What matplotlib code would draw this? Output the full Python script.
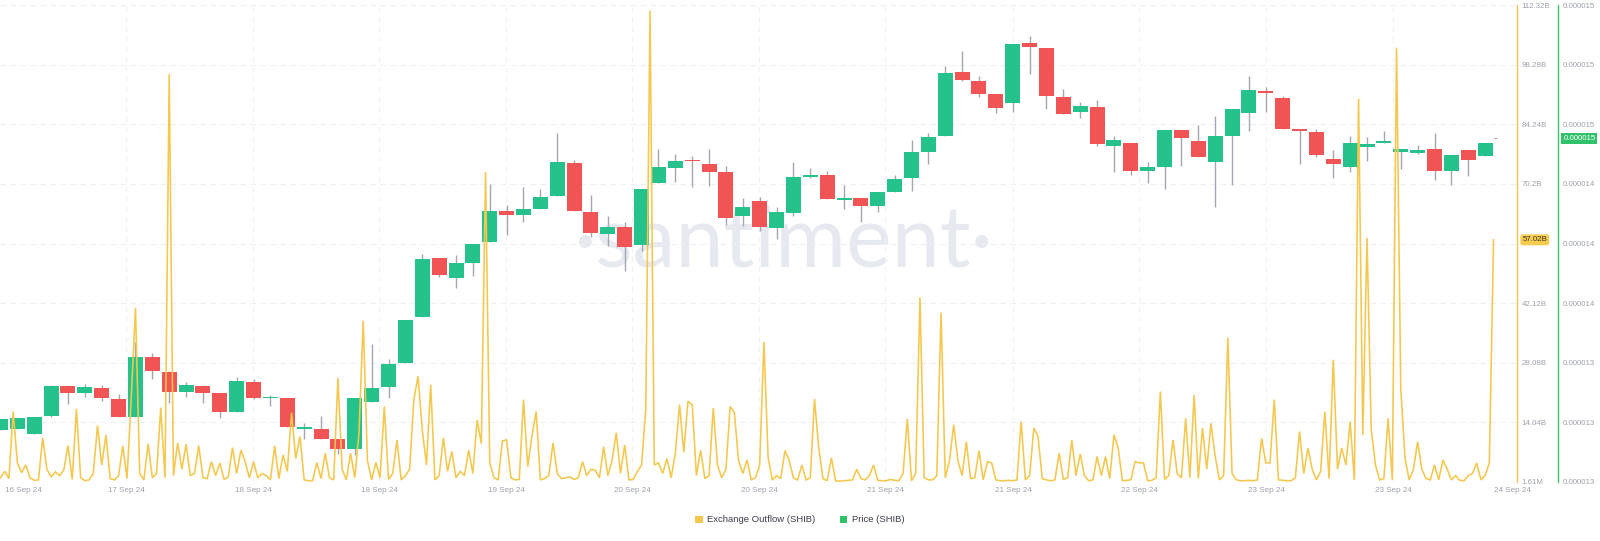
import numpy as np
import matplotlib
matplotlib.use("Agg")
import matplotlib.pyplot as plt
from matplotlib.patches import Patch
from matplotlib.transforms import blended_transform_factory

plt.rcParams['font.family'] = ['Liberation Sans', 'DejaVu Sans']

# ---------------- data ----------------
# 2-hour SHIB candles, prices in units of 1e-5 USD
price_open = [1.3062, 1.3067, 1.3042, 1.3133, 1.3284, 1.3249, 1.3274, 1.3219, 1.3128, 1.3430,
              1.3355, 1.3254, 1.3284, 1.3249, 1.3153, 1.3304, 1.3221, 1.3224, 1.3067, 1.3067,
              1.3017, 1.2966, 1.3203, 1.3279, 1.3400, 1.3632, 1.3929, 1.3824, 1.3904, 1.4010,
              1.4166, 1.4141, 1.4176, 1.4237, 1.4403, 1.4161, 1.4050, 1.4081, 1.3990, 1.4303,
              1.4378, 1.4416, 1.4398, 1.4358, 1.4136, 1.4212, 1.4076, 1.4151, 1.4333, 1.4343,
              1.4219, 1.4227, 1.4187, 1.4257, 1.4328, 1.4459, 1.4540, 1.4862, 1.4817, 1.4751,
              1.4706, 1.5008, 1.4983, 1.4736, 1.4661, 1.4686, 1.4489, 1.4504, 1.4363, 1.4383,
              1.4570, 1.4514, 1.4408, 1.4540, 1.4656, 1.4761, 1.4731, 1.4570, 1.4560, 1.4424,
              1.4383, 1.4484, 1.4507, 1.4459, 1.4454, 1.4474, 1.4363, 1.4469, 1.4439]
price_high = [1.3118, 1.3123, 1.3129, 1.3289, 1.3289, 1.3294, 1.3289, 1.3244, 1.3506, 1.3450,
              1.3360, 1.3304, 1.3289, 1.3249, 1.3329, 1.3319, 1.3239, 1.3224, 1.3097, 1.3133,
              1.3017, 1.3224, 1.3496, 1.3420, 1.3617, 1.3945, 1.3929, 1.3940, 1.3995, 1.4298,
              1.4192, 1.4282, 1.4272, 1.4555, 1.4418, 1.4242, 1.4136, 1.4106, 1.4272, 1.4474,
              1.4449, 1.4439, 1.4474, 1.4388, 1.4227, 1.4232, 1.4182, 1.4408, 1.4378, 1.4363,
              1.4292, 1.4227, 1.4257, 1.4343, 1.4519, 1.4555, 1.4892, 1.4968, 1.4842, 1.4751,
              1.5003, 1.5044, 1.4983, 1.4776, 1.4711, 1.4721, 1.4540, 1.4504, 1.4408, 1.4570,
              1.4570, 1.4595, 1.4640, 1.4676, 1.4842, 1.4787, 1.4741, 1.4570, 1.4575, 1.4469,
              1.4540, 1.4534, 1.4565, 1.4474, 1.4494, 1.4555, 1.4444, 1.4469, 1.4504]
price_low = [1.3062, 1.3067, 1.3042, 1.3128, 1.3193, 1.3229, 1.3208, 1.3128, 1.3128, 1.3319,
             1.3198, 1.3229, 1.3198, 1.3123, 1.3153, 1.3219, 1.3183, 1.3077, 1.3017, 1.3017,
             1.2941, 1.2936, 1.3203, 1.3224, 1.3400, 1.3632, 1.3829, 1.3778, 1.3834, 1.4010,
             1.4045, 1.4106, 1.4176, 1.4237, 1.4166, 1.4035, 1.3985, 1.3864, 1.3960, 1.4303,
             1.4308, 1.4282, 1.4287, 1.4091, 1.4086, 1.4061, 1.4025, 1.4136, 1.4328, 1.4222,
             1.4176, 1.4106, 1.4161, 1.4257, 1.4262, 1.4398, 1.4540, 1.4817, 1.4736, 1.4656,
             1.4661, 1.4852, 1.4676, 1.4650, 1.4630, 1.4489, 1.4358, 1.4343, 1.4303, 1.4272,
             1.4388, 1.4434, 1.4182, 1.4292, 1.4565, 1.4661, 1.4575, 1.4398, 1.4434, 1.4328,
             1.4358, 1.4413, 1.4507, 1.4373, 1.4449, 1.4318, 1.4292, 1.4338, 1.4439]
price_close = [1.3118, 1.3123, 1.3128, 1.3284, 1.3249, 1.3279, 1.3224, 1.3128, 1.3430, 1.3360,
               1.3254, 1.3289, 1.3249, 1.3153, 1.3309, 1.3224, 1.3226, 1.3077, 1.3070, 1.3017,
               1.2966, 1.3224, 1.3274, 1.3395, 1.3617, 1.3924, 1.3844, 1.3904, 1.3995, 1.4166,
               1.4141, 1.4176, 1.4232, 1.4408, 1.4166, 1.4055, 1.4081, 1.3980, 1.4272, 1.4383,
               1.4413, 1.4413, 1.4358, 1.4126, 1.4182, 1.4081, 1.4156, 1.4333, 1.4343, 1.4222,
               1.4229, 1.4187, 1.4257, 1.4323, 1.4459, 1.4534, 1.4857, 1.4822, 1.4751, 1.4681,
               1.5003, 1.4988, 1.4741, 1.4650, 1.4691, 1.4499, 1.4519, 1.4363, 1.4383, 1.4570,
               1.4529, 1.4434, 1.4540, 1.4676, 1.4771, 1.4756, 1.4575, 1.4565, 1.4444, 1.4398,
               1.4504, 1.4499, 1.4512, 1.4474, 1.4469, 1.4363, 1.4444, 1.4418, 1.4504]
last_price = 1.4529

# Exchange outflow, 30-minute samples, billions of SHIB
outflow_b = [
    1.0, 2.5, 0.8, 16.6, 4.5, 2.2, 4.0, 1.0, 0.4, 0.5,
    10.4, 3.0, 1.2, 2.4, 1.5, 2.8, 8.6, 0.6, 17.2, 1.0,
    0.3, 0.5, 2.0, 13.3, 4.0, 11.1, 0.8, 0.5, 1.5, 8.5,
    0.8, 19.8, 41.0, 2.0, 0.5, 9.0, 1.0, 2.0, 17.5, 1.0,
    96.0, 1.5, 9.2, 3.0, 8.9, 1.5, 2.0, 8.6, 1.0, 0.8,
    4.8, 1.5, 4.5, 0.6, 1.2, 8.1, 2.0, 7.5, 4.8, 1.0,
    4.8, 1.0, 2.0, 1.5, 0.5, 8.5, 0.8, 6.4, 2.5, 16.3,
    5.5, 10.7, 0.5, 0.3, 0.3, 4.6, 0.8, 6.8, 1.0, 0.5,
    24.5, 3.0, 0.5, 6.8, 1.0, 11.6, 38.0, 5.0, 0.5, 4.6,
    1.0, 17.8, 0.6, 2.0, 9.9, 0.5, 1.5, 3.0, 19.4, 24.9,
    12.3, 4.0, 22.9, 0.5, 1.5, 10.4, 2.5, 7.2, 1.0, 2.5,
    1.5, 7.5, 2.0, 14.6, 9.0, 73.0, 4.5, 1.0, 0.5, 9.7,
    9.9, 1.0, 0.5, 0.6, 19.4, 3.6, 10.7, 16.6, 0.5, 0.8,
    1.5, 9.2, 2.0, 0.8, 1.0, 1.2, 0.6, 1.0, 4.8, 1.5,
    3.0, 2.8, 1.0, 8.3, 1.5, 5.0, 11.6, 2.0, 8.7, 0.5,
    0.6, 2.5, 4.0, 17.4, 111.0, 4.0, 4.5, 2.0, 5.5, 1.0,
    6.8, 18.2, 7.0, 19.0, 18.2, 1.5, 7.5, 0.8, 1.5, 17.4,
    4.0, 1.0, 3.0, 17.8, 16.3, 5.0, 2.0, 5.2, 0.5, 1.0,
    4.0, 33.0, 5.7, 0.5, 1.5, 0.8, 7.4, 5.0, 1.0, 0.5,
    4.0, 0.5, 1.0, 19.5, 8.0, 0.8, 0.3, 5.7, 0.3, 0.2,
    0.3, 0.4, 0.5, 3.0, 0.8, 0.5, 1.5, 4.0, 0.4, 0.3,
    0.3, 0.6, 0.4, 0.3, 2.0, 14.9, 0.3, 2.0, 43.4, 1.0,
    0.5, 0.5, 1.5, 39.9, 1.0, 5.0, 13.5, 5.0, 1.5, 9.5,
    0.8, 1.0, 7.4, 0.5, 4.8, 4.5, 0.5, 0.3, 0.3, 0.4,
    0.3, 0.5, 14.2, 0.5, 1.5, 12.7, 10.7, 0.8, 0.5, 0.3,
    0.5, 6.8, 0.6, 1.0, 9.9, 1.5, 6.6, 1.5, 0.3, 0.5,
    6.0, 1.5, 6.0, 0.8, 11.1, 8.0, 0.3, 0.4, 0.5, 4.8,
    4.5, 4.5, 0.3, 0.4, 1.0, 21.3, 0.6, 1.5, 9.9, 2.0,
    1.0, 15.0, 1.0, 20.5, 0.8, 12.7, 3.0, 13.8, 6.0, 0.5,
    1.5, 34.0, 2.0, 0.5, 0.3, 0.3, 0.4, 0.3, 0.5, 10.3,
    4.5, 4.5, 19.4, 0.5, 0.4, 0.3, 0.3, 1.0, 11.9, 2.0,
    8.0, 3.0, 0.5, 2.5, 16.6, 0.8, 28.8, 3.0, 8.0, 4.0,
    14.2, 0.5, 90.2, 11.1, 57.5, 12.3, 4.0, 0.5, 0.8, 15.0,
    0.5, 102.3, 22.1, 5.7, 0.5, 3.0, 9.5, 3.0, 0.8, 0.5,
    4.0, 0.5, 5.2, 3.0, 0.5, 1.5, 0.4, 0.3, 1.5, 2.0,
    4.5, 0.5, 1.5, 4.5, 57.02]
samples_per_candle = 4
last_outflow = 57.02

outflow_ticks = [0, 14.04, 28.08, 42.12, 56.16, 70.2, 84.24, 98.28, 112.32]
outflow_tick_labels = ['1.61M', '14.04B', '28.08B', '42.12B', '', '70.2B', '84.24B', '98.28B', '112.32B']
price_ticks = [1.28, 1.31, 1.34, 1.37, 1.40, 1.43, 1.46, 1.49, 1.52]   # x 1e-5

date_tick_pos = [1.33, 7.44, 14.97, 22.44, 29.96, 37.43, 44.96, 52.43, 60.02, 67.49, 75.02, 82.54, 89.6]
date_tick_labels = ['16 Sep 24', '17 Sep 24', '18 Sep 24', '18 Sep 24', '19 Sep 24', '20 Sep 24',
                    '20 Sep 24', '21 Sep 24', '21 Sep 24', '22 Sep 24', '23 Sep 24', '23 Sep 24',
                    '24 Sep 24']

# ---------------- style ----------------
GREEN = '#26C28C'
RED = '#F05454'
WICK = '#A3A8B0'
YELLOW = '#F5C74C'
AXGREEN = '#3DC46E'
GRID = '#EDEFF2'
LABEL = '#9DA2AC'

scale = 1e-5
o = np.array(price_open) * scale
h = np.array(price_high) * scale
l = np.array(price_low) * scale
c = np.array(price_close) * scale
xc = np.arange(len(o))

fig = plt.figure(figsize=(16, 5.41), dpi=100)
fig.patch.set_facecolor('white')
W, H = 1600.0, 541.0
ax = fig.add_axes([0, 1 - 482 / H, 1517 / W, 477 / H])
ax2 = ax.twinx()

xlim = (-0.03, 89.89)
ax.set_xlim(*xlim)
ax.set_ylim(price_ticks[0] * scale, price_ticks[-1] * scale)
ax2.set_ylim(outflow_ticks[0], outflow_ticks[-1])

# watermark
ax.text(0.516, 0.452, '\u00b7santiment\u00b7', transform=ax.transAxes, ha='center', va='baseline',
        fontsize=62, color='#E6E9EF', family=['Lato', 'DejaVu Sans'], fontweight='normal', zorder=0)

# grid
for yv in price_ticks:
    ax.axhline(yv * scale, color=GRID, lw=0.8, ls=(0, (5, 4)), zorder=0.5)
for xv in date_tick_pos[1:-1]:
    ax.axvline(xv, color='#F1F2F5', lw=0.8, ls=(0, (5, 4)), zorder=0.5)

# candles
up = c >= o
colors = np.where(up, GREEN, RED)
body_bottom = np.minimum(o, c)
body_h = np.maximum(np.abs(c - o), 0.0009 * scale)
ax.vlines(xc, l, h, color=WICK, lw=1.0, zorder=2)
ax.bar(xc, body_h, bottom=body_bottom, width=0.889, color=colors, linewidth=0, zorder=3)
ax.hlines(last_price * scale, len(o) - 0.45, len(o) - 0.3, color=WICK, lw=0.8, zorder=2)

# outflow line
xo = np.arange(len(outflow_b)) / samples_per_candle
ax2.plot(xo, outflow_b, color=YELLOW, lw=1.15, zorder=4, solid_joinstyle='miter')

# axes / spines
for s in ax.spines.values():
    s.set_visible(False)
for s in ax2.spines.values():
    s.set_visible(False)
ax2.spines['right'].set_visible(True)
ax2.spines['right'].set_color(YELLOW)
ax2.spines['right'].set_linewidth(1.0)
ax.spines['right'].set_visible(True)
ax.spines['right'].set_position(('axes', 1.027))
ax.spines['right'].set_color(AXGREEN)
ax.spines['right'].set_linewidth(1.0)

ax.yaxis.tick_right()
ax.set_yticks([p * scale for p in price_ticks])
ax.set_yticklabels(['%.6f' % (p * scale) for p in price_ticks])
ax.tick_params(axis='y', length=0, pad=3.5, labelsize=5.7, labelcolor=LABEL)
ax2.set_yticks(outflow_ticks)
ax2.set_yticklabels(outflow_tick_labels)
ax2.tick_params(axis='y', length=0, pad=3.2, labelsize=5.7, labelcolor=LABEL)

ax.set_xticks(date_tick_pos)
ax.set_xticklabels(date_tick_labels)
ax.tick_params(axis='x', length=0, pad=3.5, labelsize=5.8, labelcolor=LABEL)
ax.grid(False)
ax2.grid(False)

# value badges
tr2 = blended_transform_factory(ax2.transAxes, ax2.transData)
ax2.text(1.0035, last_outflow, '%.2fB' % last_outflow, transform=tr2, ha='left', va='center',
         fontsize=5.7, color='#3A3320', zorder=10, clip_on=False,
         bbox=dict(boxstyle='round,pad=0.25,rounding_size=0.3', fc='#F8CD4F', ec='none'))
tr1 = blended_transform_factory(ax.transAxes, ax.transData)
ax.text(1.0305, last_price * scale, '%.6f' % (last_price * scale), transform=tr1, ha='left',
        va='center', fontsize=5.7, color='white', zorder=10, clip_on=False,
        bbox=dict(boxstyle='square,pad=0.25', fc='#2FC26A', ec='none'))

# legend
handles = [Patch(facecolor=YELLOW, edgecolor='none', label='Exchange Outflow (SHIB)'),
           Patch(facecolor='#2FC26A', edgecolor='none', label='Price (SHIB)')]
fig.legend(handles=handles, loc='center', bbox_to_anchor=(0.5, 1 - 520 / H), ncol=2, frameon=False,
           fontsize=6.8, handlelength=0.75, handleheight=0.75, handletextpad=0.5, columnspacing=2.6,
           labelcolor='#3A3F4A')

fig.savefig('out.png', dpi=100, facecolor='white')
